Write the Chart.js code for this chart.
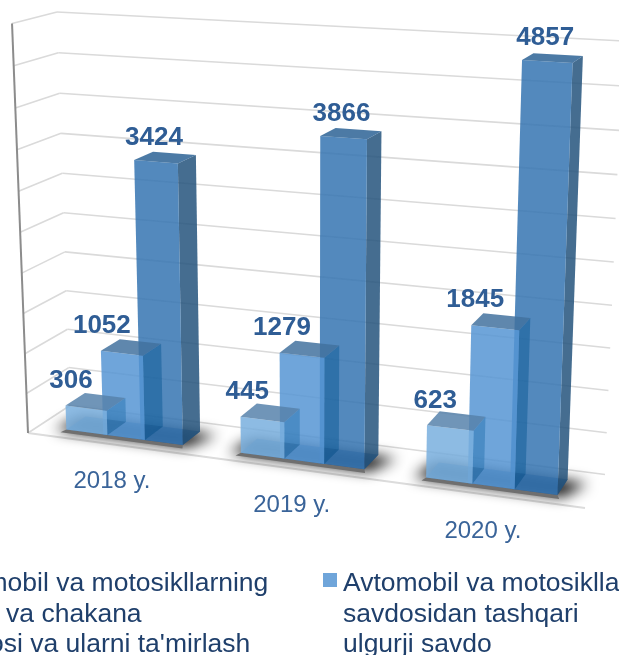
<!DOCTYPE html>
<html>
<head>
<meta charset="utf-8">
<style>
    html, body { margin: 0; padding: 0; background: #fff; overflow: hidden; }
    canvas { display: block; }
</style>
<script src="https://cdn.jsdelivr.net/npm/chart.js@4/dist/chart.umd.js"></script>
</head>
<body>
<canvas id="chart" width="619" height="655"></canvas>
<script>
const categories = ["2018 y.", "2019 y.", "2020 y."];
const serieOne = [306, 445, 623];
const serieTwo = [1052, 1279, 1845];
const serieThree = [3424, 3866, 4857];
const axisMax = 5000;
const axisStep = 500;
const legendOne = ["Avtomobil va motosikllarning", "ulgurji va chakana", "savdosi va ularni ta'mirlash"];
const legendTwo = ["Avtomobil va motosikllarning", "savdosidan tashqari", "ulgurji savdo"];
const legendThree = ["Avtomobil va motosikllarni", "ta'mirlash"];

// perspective floor: front-left, front-right, back-right, back-left
const floorQuad = [[28, 433], [585, 508], [605, 474.5], [70, 405.5]];
// verticals fan out from this point, a bit more the lower they stand in the picture
const vanish = [309, 7643];
const stretchBase = 0.05437, stretchRate = 0.0000886, stretchFromY = 405.5;
// camera is above, so higher values come out a little larger
const heightBow = 0.04;
const barFront = 0.25, barBack = 0.72, barGrow = 1.11;

const looks = [
    { front: "rgba(121,175,222,.85)", top: "rgba(87,131,172,.85)", side: "rgba(39,115,176,.5)", under: "rgba(50,100,150,.6)", labelX: -15, labelY: -27.5 },
    { front: "rgba(86,149,211,.85)", top: "rgba(67,114,159,.85)", side: "rgba(11,89,149,.5)", under: "rgba(40,90,140,.6)", labelX: -20, labelY: -27.5 },
    { front: "rgba(53,116,178,.85)", top: "rgba(45,99,149,.85)", side: "rgba(37,83,124,.85)", under: "rgba(20,60,110,.55)", labelX: -2, labelY: -24 }
];
const valueColor = "#2f5d95";

function quadMap(q) {
    const [x0, y0] = q[0], [x1, y1] = q[1], [x2, y2] = q[2], [x3, y3] = q[3];
    const dx1 = x1 - x2, dx2 = x3 - x2, dx3 = x0 - x1 + x2 - x3;
    const dy1 = y1 - y2, dy2 = y3 - y2, dy3 = y0 - y1 + y2 - y3;
    const den = dx1 * dy2 - dx2 * dy1;
    const g = (dx3 * dy2 - dx2 * dy3) / den, h = (dx1 * dy3 - dx3 * dy1) / den;
    const a = x1 - x0 + g * x1, b = x3 - x0 + h * x3;
    const d = y1 - y0 + g * y1, e = y3 - y0 + h * y3;
    return (u, v) => {
        const w = g * u + h * v + 1;
        return [(a * u + b * v + x0) / w, (d * u + e * v + y0) / w];
    };
}
const floorAt = quadMap(floorQuad);

// chart pixel -> picture pixel, depth 0 is the front of the floor
function project(area, px, py, depth) {
    const u = (px - area.left) / area.width;
    const v = (area.bottom - py) / area.height;
    const bowed = v * (1 - heightBow) + heightBow * v * v;
    const p = floorAt(u, depth);
    const k = (stretchBase + stretchRate * (p[1] - stretchFromY)) * bowed;
    return [p[0] + (p[0] - vanish[0]) * k, p[1] + (p[1] - vanish[1]) * k];
}

function poly(ctx, pts, fill) {
    ctx.beginPath();
    pts.forEach((p, i) => i ? ctx.lineTo(p[0], p[1]) : ctx.moveTo(p[0], p[1]));
    ctx.closePath();
    ctx.fillStyle = fill;
    ctx.fill();
}

function line(ctx, a, b, color, width) {
    ctx.beginPath();
    ctx.moveTo(a[0], a[1]);
    ctx.lineTo(b[0], b[1]);
    ctx.strokeStyle = color;
    ctx.lineWidth = width;
    ctx.stroke();
}

const box3d = {
    id: "box3d",
    beforeDatasetsDraw(chart) {
        const ctx = chart.ctx, area = chart.chartArea, y = chart.scales.y;
        ctx.save();
        // gridlines on back and side wall
        y.ticks.forEach(t => {
            const py = y.getPixelForValue(t.value);
            const a = project(area, area.left, py, 0);
            const b = project(area, area.left, py, 1);
            const c = project(area, area.right, py, 1);
            line(ctx, a, b, "#dadada", 1.6);
            line(ctx, b, c, "#dadada", 1.6);
        });
        // floor front edge and left wall
        line(ctx, project(area, area.left, area.bottom, 0), project(area, area.right, area.bottom, 0), "#dcdcdc", 2);
        line(ctx, project(area, area.left, area.bottom, 0), project(area, area.left, area.top, 0), "#8c8c8c", 2);

        // soft shadow on floor under each group, polygon itself stays off the canvas
        const metas = [0, 1, 2].map(i => chart.getDatasetMeta(i));
        categories.forEach((c, j) => {
            const l = metas[0].data[j], r = metas[2].data[j];
            const half = l.width * barGrow / 2;
            const x0 = l.x - half, x1 = r.x + half;
            const s = (px, d) => project(area, px, area.bottom, d);
            const off = p => [p[0] - 2000, p[1]];
            ctx.save();
            ctx.shadowColor = "rgba(0,0,0,.95)";
            ctx.shadowBlur = 14;
            ctx.shadowOffsetX = 2000;
            poly(ctx, [s(x0 - 12, barFront - 0.04), s(x1 + 6, barFront - 0.04), s(x1 + 22, barBack - 0.05), s(x0 - 4, barBack)].map(off), "#000");
            ctx.restore();
            poly(ctx, [s(x0 - 2, barFront - 0.1), s(x1 + 4, barFront - 0.1), s(x1, barFront), s(x0, barFront)], "#6f6f6f");
        });
        ctx.restore();
    },
    afterDatasetsDraw(chart) {
        const ctx = chart.ctx, area = chart.chartArea;
        ctx.save();
        // right series first so the nearer sides lie over it
        for (let i = 2; i >= 0; i--) {
            const look = looks[i];
            chart.getDatasetMeta(i).data.forEach(bar => {
                const half = bar.width * barGrow / 2;
                const xl = bar.x - half, xr = bar.x + half;
                const at = (px, py, d) => project(area, px, py, d);
                const fb = barFront, bk = barBack;
                poly(ctx, [at(xl, bar.base, fb), at(xr, bar.base, fb), at(xr, bar.base, bk), at(xl, bar.base, bk)], look.under);
                poly(ctx, [at(xr, bar.base, fb), at(xr, bar.y, fb), at(xr, bar.y, bk), at(xr, bar.base, bk)], look.side);
                poly(ctx, [at(xl, bar.base, fb), at(xr, bar.base, fb), at(xr, bar.y, fb), at(xl, bar.y, fb)], look.front);
                poly(ctx, [at(xl, bar.y, fb), at(xr, bar.y, fb), at(xr, bar.y, bk), at(xl, bar.y, bk)], look.top);
            });
        }
        // value labels
        ctx.font = "bold 26px 'Liberation Sans'";
        ctx.textAlign = "center";
        ctx.textBaseline = "middle";
        ctx.fillStyle = valueColor;
        for (let i = 0; i < 3; i++) {
            chart.getDatasetMeta(i).data.forEach((bar, j) => {
                const p = project(area, bar.x, bar.y, barFront);
                ctx.fillText(chart.data.datasets[i].data[j], p[0] + looks[i].labelX, p[1] + looks[i].labelY);
            });
        }
        // category labels under the floor
        ctx.font = "24px 'Liberation Sans'";
        ctx.fillStyle = "#3a6499";
        chart.data.labels.forEach((name, j) => {
            const p = project(area, chart.scales.x.getPixelForValue(j), area.bottom, 0);
            ctx.fillText(name, p[0] - 2, p[1] + 36.5);
        });
        // legend, runs off both sides of the picture like the original
        ctx.textAlign = "left";
        ctx.textBaseline = "alphabetic";
        ctx.font = "26.5px 'Liberation Sans'";
        ctx.fillStyle = "#1f3f6b";
        [[legendOne, -67], [legendTwo, 343], [legendThree, 753]].forEach(([rows, x], k) => {
            rows.forEach((row, n) => ctx.fillText(row, x - (k === 0 && n === 1 ? 5 : 0), 591 + n * 30.5));
            ctx.save();
            ctx.fillStyle = ["#8dbbe3", "#6fa5da", "#5589bd"][k];
            ctx.fillRect(x - 20, 573, 14, 14);
            ctx.restore();
        });
        ctx.restore();
    }
};

new Chart(document.getElementById("chart"), {
    type: "bar",
    data: {
        labels: categories,
        datasets: [
            { label: legendOne.join(" "), data: serieOne, backgroundColor: "transparent" },
            { label: legendTwo.join(" "), data: serieTwo, backgroundColor: "transparent" },
            { label: legendThree.join(" "), data: serieThree, backgroundColor: "transparent" }
        ]
    },
    options: {
        responsive: false,
        animation: false,
        layout: { padding: 0 },
        categoryPercentage: 0.65,
        barPercentage: 1,
        plugins: { legend: { display: false }, tooltip: { enabled: false } },
        scales: {
            x: { display: false },
            y: { display: false, min: 0, max: axisMax, ticks: { stepSize: axisStep } }
        }
    },
    plugins: [box3d]
});
</script>
</body>
</html>
